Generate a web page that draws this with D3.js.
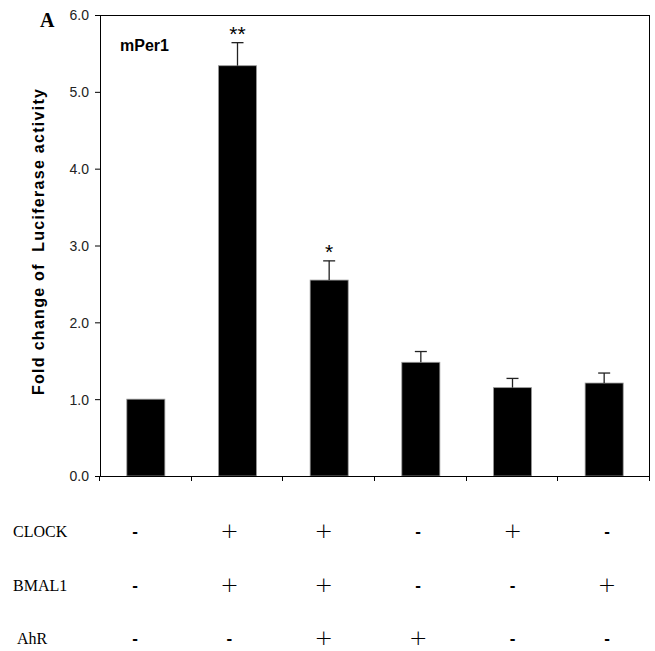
<!DOCTYPE html>
<html><head><meta charset="utf-8">
<script src="https://cdn.jsdelivr.net/npm/d3@7"></script>
<style>body{margin:0;background:#fff}</style>
</head><body>
<script>
const groups = ["g1","g2","g3","g4","g5","g6"];
const values = [1.0, 5.34, 2.55, 1.48, 1.15, 1.21];
const errors = [0, 0.30, 0.25, 0.14, 0.12, 0.13];
const stars = ["", "**", "*", "", "", ""];
const yTicks = [0,1,2,3,4,5,6];
const rowLabels = ["CLOCK","BMAL1","AhR"];
const clockRow = ["-","+","+","-","+","-"];
const bmalRow  = ["-","+","+","-","-","+"];
const ahrRow   = ["-","-","+","+","-","-"];

const W=655,H=651;
const svg=d3.select("body").append("svg").attr("width",W).attr("height",H);
const x0=100,x1=650,yTop=15,yBot=476;
const x=d3.scaleBand().domain(groups).range([x0,x1]).paddingInner(0.585).paddingOuter(0.2925);
const xb=d3.scaleBand().domain(groups).range([x0,x1]);
const y=d3.scaleLinear().domain([0,6]).range([yBot,yTop]);

// frame
svg.append("line").attr("x1",x0).attr("x2",x1).attr("y1",yTop+0.5).attr("y2",yTop+0.5).attr("stroke","#000");
svg.append("line").attr("x1",x1-0.5).attr("x2",x1-0.5).attr("y1",yTop).attr("y2",yBot).attr("stroke","#000");

// bars
svg.selectAll("rect.bar").data(values).join("rect")
 .attr("x",(d,i)=>x(groups[i])).attr("width",x.bandwidth())
 .attr("y",d=>y(d)).attr("height",d=>yBot-y(d))
 .attr("fill","#000").attr("stroke","#999").attr("stroke-width",0.8);

// error bars
const eb=svg.append("g").attr("stroke","#222").attr("stroke-width",1.3);
values.forEach((v,i)=>{
  if(!errors[i]) return;
  const cx=x(groups[i])+x.bandwidth()/2;
  eb.append("line").attr("x1",cx).attr("x2",cx).attr("y1",y(v)).attr("y2",y(v+errors[i]));
  eb.append("line").attr("x1",cx-6).attr("x2",cx+6).attr("y1",y(v+errors[i])).attr("y2",y(v+errors[i]));
});
// stars
svg.selectAll("text.star").data(stars).join("text")
 .attr("x",(d,i)=>x(groups[i])+x.bandwidth()/2)
 .attr("y",(d,i)=>y(values[i]+errors[i])-2)
 .attr("text-anchor","middle").attr("font-family","Liberation Sans, Arial").attr("font-size",21)
 .text(d=>d);

// y axis
const ya=svg.append("g").attr("transform",`translate(${x0},0)`)
 .call(d3.axisLeft(y).tickValues(yTicks).tickFormat(d3.format(".1f")).tickSize(5).tickSizeOuter(0));
ya.select(".domain").attr("stroke","#000");
ya.selectAll("text").attr("font-family","Liberation Sans, Arial").attr("font-size",14).attr("fill","#222").attr("dx",-3).attr("dy","0.35em");

// x axis
svg.append("line").attr("x1",x0-5).attr("x2",x1).attr("y1",yBot+0.5).attr("y2",yBot+0.5).attr("stroke","#000");
const bounds=groups.map(g=>xb(g)).concat([x1]);
svg.selectAll("line.xt").data(bounds).join("line")
 .attr("x1",d=>Math.round(d)-0.5).attr("x2",d=>Math.round(d)-0.5).attr("y1",yBot).attr("y2",yBot+5).attr("stroke","#000");

// labels
svg.append("text").attr("x",40).attr("y",27).attr("font-family","Liberation Serif, Times New Roman").attr("font-weight","bold").attr("font-size",20).text("A");
svg.append("text").attr("x",120).attr("y",51).attr("font-family","Liberation Sans, Arial").attr("font-weight","bold").attr("font-size",16).text("mPer1");
svg.append("text").attr("transform",`translate(44,242) rotate(-90)`).attr("text-anchor","middle")
 .attr("font-family","Liberation Sans, Arial").attr("font-weight","bold").attr("font-size",16).attr("xml:space","preserve")
 .attr("textLength",306).attr("lengthAdjust","spacing")
 .text("Fold change of  Luciferase activity");

// table
const col=d3.scalePoint().domain(groups).range([135,607]);
const rowY=d3.scalePoint().domain(rowLabels).range([531,638]);
const rows=[clockRow,bmalRow,ahrRow];
const rowX=[13,13,17];
const tbl=svg.append("g").attr("opacity",0.999);
rowLabels.forEach((lab,r)=>{
  tbl.append("text").attr("x",rowX[r]).attr("y",rowY(lab)+6).attr("fill","#000").attr("font-family","Liberation Serif, Times New Roman").attr("font-size",16).text(lab);
  tbl.append("g").selectAll("text").data(rows[r]).join("text")
   .attr("x",(d,i)=>col(groups[i])).attr("y",d=>d==="+"?rowY(lab)+7:rowY(lab)+6)
   .attr("text-anchor","middle").attr("fill","#000")
   .attr("font-family",d=>d==="+"?"DejaVu Sans ExtraLight, DejaVu Sans, sans-serif":"Liberation Sans, Arial")
   .attr("font-weight",d=>d==="+"?200:"bold")
   .attr("font-size",d=>d==="+"?22:17)
   .text(d=>d);
});
</script>
</body></html>
